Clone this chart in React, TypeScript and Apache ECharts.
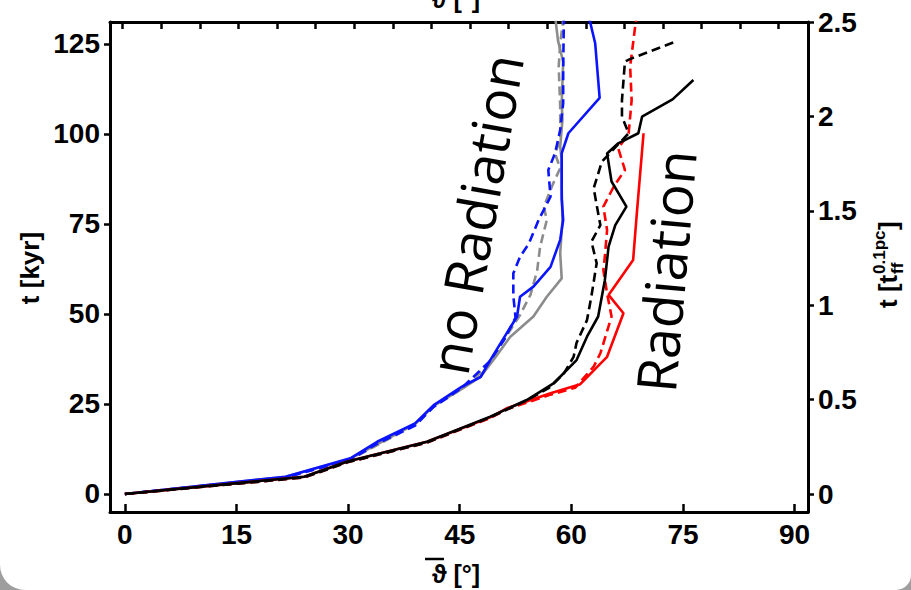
import React, { useEffect, useRef } from "react";
import * as echarts from "echarts";

const xTicks = [0, 15, 30, 45, 60, 75, 90];
const topTicks = [0, 5, 10, 15, 20, 25, 30, 35, 40, 45, 50, 55, 60, 65, 70, 75, 80, 85];
const yTicksKyr = [0, 25, 50, 75, 100, 125];
const yTicksTff = [0, 0.5, 1, 1.5, 2, 2.5];

// no Radiation runs
const grayNoRadSolid: number[][] = [
  [0, 0], [21.6, 4.8], [30.3, 9.8], [39.0, 19.4], [41.5, 24.5], [45.5, 29.5], [47.8, 32.6],
  [49.8, 38], [51.8, 43.7], [54.9, 49.3], [56.7, 54.8], [58.7, 59.9], [58.5, 66.9], [58.8, 76.1],
  [58.7, 85.4], [58.7, 92.8], [58.5, 96.5], [58.8, 103.9], [58.7, 108.5], [58.9, 120], [58.2, 126], [57.8, 133],
];
const grayNoRadDashed: number[][] = [
  [0, 0], [21.6, 4.7], [30.3, 9.6], [39.0, 19.2], [41.5, 24.3], [45.4, 29.4], [48.5, 35], [51, 43],
  [53.1, 49.7], [54.5, 55.3], [55.4, 62], [55.8, 68.7], [56.7, 76.1], [56.3, 79.8], [57.5, 86],
  [58.5, 90.5], [57.8, 94.6], [58.5, 98.3], [58.5, 107.6], [58.3, 118.7], [58.5, 125.2], [59.0, 133],
];
const blueNoRadSolid: number[][] = [
  [0, 0], [21.6, 4.8], [30.3, 9.9], [33.9, 14.5], [39.0, 19.6], [41.5, 24.7], [45.3, 29.8], [47.8, 32.5],
  [49.1, 37.2], [51.3, 44.6], [52.7, 49.3], [53.1, 54.8], [54.9, 57.6], [57.2, 63.1], [58.5, 70.6],
  [58.9, 76.1], [58.7, 82], [58.7, 94.6], [59.6, 100.2], [63.8, 110], [63.2, 125.2], [62.3, 133],
];
const blueNoRadDashed: number[][] = [
  [0, 0], [21.6, 4.6], [30.3, 9.5], [33.9, 14], [39.0, 19], [41.5, 24.2], [45.3, 29.5], [49.1, 37],
  [51.0, 43], [52.5, 49], [52.2, 55], [52.2, 61.3], [53.1, 65.9], [54.3, 69.6], [55.6, 76.1],
  [57.2, 82.6], [56.9, 90], [57.8, 94.6], [58.5, 101.1], [58.9, 108.5], [58.9, 117.8], [59.0, 133],
];
// Radiation runs
const redRadSolid: number[][] = [
  [0, 0], [24.1, 4.8], [29.9, 9.0], [40.6, 14.5], [49.1, 21.3], [51.3, 23.8], [57.2, 28.0],
  [61.2, 30.5], [64.8, 38.1], [67.0, 50.2], [65.0, 55.3], [68.3, 65], [68.8, 78], [69.7, 100.2],
];
const redRadDashed: number[][] = [
  [0, 0], [24.1, 4.6], [29.9, 8.8], [40.6, 14.3], [49.1, 21.1], [51.3, 23.5], [57.2, 27.6],
  [60.5, 29.5], [63.0, 35.4], [63.9, 39.1], [65.4, 49.3], [64.8, 55.7], [64.3, 62.2], [64.5, 65.9],
  [64.8, 73.3], [64.3, 79.8], [65.7, 85.4], [67.2, 90], [66.3, 96], [67.7, 100.2], [68.1, 109.4],
  [67.9, 118.7], [68.6, 130.3], [68.8, 133],
];
const blackRadSolid: number[][] = [
  [0, 0], [24.1, 4.8], [29.9, 9.0], [40.6, 14.5], [49.1, 21.5], [54.0, 26.1], [57.6, 30.7],
  [60.7, 37.2], [62.1, 43.7], [63.6, 49.3], [64.5, 59.4], [65.0, 68.7], [65.9, 74.7], [67.4, 79.8],
  [65.4, 86.8], [64.8, 94.6], [66.3, 97.4], [69.0, 100.2], [69.5, 104.8], [73.6, 109.6], [76.4, 115.0],
];
const blackRadDashed: number[][] = [
  [0, 0], [24.1, 4.6], [29.9, 8.8], [40.6, 14.3], [49.1, 21.3], [54.0, 26], [57.0, 29.5],
  [59.0, 33.5], [60.3, 38.1], [60.7, 42], [62.1, 48.3], [62.7, 55], [63.4, 64.1], [62.7, 70.1],
  [63.9, 74.7], [63.6, 78], [63.0, 84.9], [64.1, 92.3], [67.7, 100.2], [66.8, 104.8], [66.8, 109.4],
  [67.2, 120.1], [68.1, 121], [73.7, 125.4],
];

const FONT = '"Liberation Sans", Arial, Helvetica, sans-serif';
const DASH = [9, 5];

function line(data: number[][], color: string, dashed: boolean, z: number) {
  return {
    type: "line",
    data,
    symbol: "none",
    showSymbol: false,
    clip: true,
    z,
    lineStyle: { color, width: 2.6, type: dashed ? DASH : "solid" },
  };
}

export default function App() {
  const ref = useRef<HTMLDivElement>(null);
  useEffect(() => {
    if (!ref.current) return;
    const chart = echarts.init(ref.current, null, { renderer: "svg" });
    const axisLine = { show: true, onZero: false, lineStyle: { color: "#000", width: 3 } };
    const tickStyle = { color: "#000", width: 2.5 };
    const labelStyle = { color: "#000", fontSize: 28, fontWeight: "bold" as const, fontFamily: FONT };
    chart.setOption({
      animation: false,
      grid: { left: 110, right: 103, top: 22, bottom: 78 },
      xAxis: [
        {
          type: "value", position: "bottom", min: -2, max: 91.8,
          axisLine,
          axisTick: { show: true, inside: true, length: 8, lineStyle: tickStyle, customValues: xTicks },
          axisLabel: { ...labelStyle, margin: 8, customValues: xTicks },
          splitLine: { show: false },
        },
        {
          type: "value", position: "top", min: -1.65, max: 88.8,
          axisLine,
          axisTick: { show: true, inside: true, length: 7, lineStyle: tickStyle, customValues: topTicks },
          axisLabel: { show: false },
          splitLine: { show: false },
        },
      ],
      yAxis: [
        {
          type: "value", position: "left", min: -5, max: 131.1,
          axisLine,
          axisTick: { show: true, inside: false, length: 6, lineStyle: tickStyle, customValues: yTicksKyr },
          axisLabel: { ...labelStyle, margin: 10, customValues: yTicksKyr },
          splitLine: { show: false },
        },
        {
          type: "value", position: "right", min: -0.095, max: 2.5,
          axisLine,
          axisTick: { show: true, inside: false, length: 6, lineStyle: tickStyle, customValues: yTicksTff },
          axisLabel: { ...labelStyle, margin: 10, customValues: yTicksTff, formatter: (v: number) => String(v) },
          splitLine: { show: false },
        },
      ],
      series: [
        line(grayNoRadSolid, "#8c8c8c", false, 2),
        line(grayNoRadDashed, "#8c8c8c", true, 3),
        line(blueNoRadSolid, "#0a14ff", false, 4),
        line(blueNoRadDashed, "#0a14ff", true, 5),
        line(redRadSolid, "#ff0000", false, 6),
        line(redRadDashed, "#ff0000", true, 7),
        line(blackRadSolid, "#000000", false, 8),
        line(blackRadDashed, "#000000", true, 9),
      ],
      graphic: [
        {
          type: "text", x: 475, y: 214, rotation: (80 * Math.PI) / 180, z: 20,
          style: { text: "no Radiation", font: '55px "Open Sans", sans-serif', fill: "#000", textAlign: "center", textVerticalAlign: "middle" },
        },
        {
          type: "text", x: 665, y: 271, rotation: (85 * Math.PI) / 180, z: 20,
          style: { text: "Radiation", font: '55px "Open Sans", sans-serif', fill: "#000", textAlign: "center", textVerticalAlign: "middle" },
        },
        {
          type: "text", x: 30, y: 268, rotation: Math.PI / 2, z: 20,
          style: { text: "t [kyr]", font: `bold 26px ${FONT}`, fill: "#000", textAlign: "center", textVerticalAlign: "middle" },
        },
        {
          type: "group", x: 888, y: 265, rotation: Math.PI / 2, z: 20,
          children: [
            { type: "text", x: -43, y: 0, style: { text: "t [t", font: `bold 26px ${FONT}`, fill: "#000", textAlign: "left", textVerticalAlign: "middle" } },
            { type: "text", x: -9, y: -9, style: { text: "0.1pc", font: `bold 17px ${FONT}`, fill: "#000", textAlign: "left", textVerticalAlign: "middle" } },
            { type: "text", x: -9, y: 9, style: { text: "ff", font: `bold 17px ${FONT}`, fill: "#000", textAlign: "left", textVerticalAlign: "middle" } },
            { type: "text", x: 35, y: 0, style: { text: "]", font: `bold 26px ${FONT}`, fill: "#000", textAlign: "left", textVerticalAlign: "middle" } },
          ],
        },
        {
          type: "text", x: 456, y: 574, z: 20,
          style: { text: "ϑ [°]", font: `bold 25px ${FONT}`, fill: "#000", textAlign: "center", textVerticalAlign: "middle" },
        },
        { type: "line", z: 20, shape: { x1: 425, y1: 559, x2: 444, y2: 559 }, style: { stroke: "#000", lineWidth: 2.5 } },
        {
          type: "text", x: 456, y: 11, z: 20,
          style: { text: "ϑ [°]", font: `bold 25px ${FONT}`, fill: "#000", textAlign: "center", textVerticalAlign: "bottom" },
        },
      ],
    });
    return () => chart.dispose();
  }, []);
  return (
    <div style={{ position: "fixed", left: 0, top: 0, width: 911, height: 590, background: "#9e9e9e" }}>
      <div
        style={{
          width: 911, height: 590, background: "#fff", overflow: "hidden",
          borderBottomLeftRadius: 25, borderBottomRightRadius: 15,
        }}
      >
        <div ref={ref} style={{ width: 911, height: 590 }} />
      </div>
    </div>
  );
}
